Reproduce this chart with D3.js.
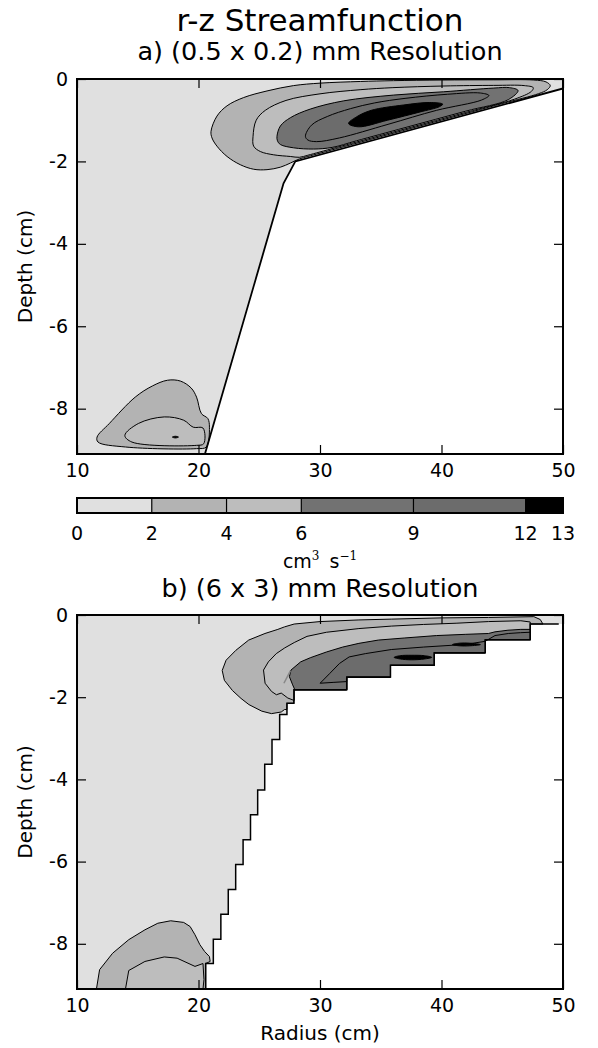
<!DOCTYPE html>
<html><head><meta charset="utf-8">
<script src="https://cdn.jsdelivr.net/npm/d3@7"></script>
<style>body{margin:0;background:#fff}svg{display:block;font-family:"DejaVu Sans",sans-serif}</style>
</head><body><svg id="c" width="598" height="1048"></svg>
<script>
// ---------- data ----------
const levels = [0, 2, 4, 6, 9, 12, 13];
const bandColors = ["#e0e0e0", "#b3b3b3", "#bdbdbd", "#727272", "#6c6c6c", "#000000"];
const xTicks = [10, 20, 30, 40, 50];
const yTicks = [0, -2, -4, -6, -8];
const cbTicks = [0, 2, 4, 6, 9, 12, 13];
const rDomain = [10, 50];
const zDomain = [-9.1, 0];

// panel a : (r, z) outline of fluid domain and its bottom line
const aDomain = [[10,0],[50,0],[50,-0.23],[27.97,-2.0],[27.0,-2.53],[20.53,-9.1],[10,-9.1]];
const aBottom = [[50,-0.23],[27.97,-2.0],[27.0,-2.53],[20.53,-9.1]];
// panel a contours (level = lower bound of the band inside)
const aUpper2 = [[21.03,-1.27],[21.52,-0.90],[22.35,-0.65],[23.72,-0.45],[25.64,-0.29],[27.83,-0.16],[30.03,-0.10],[33.32,-0.06],[36.06,-0.04],[39.99,-0.025],[44.29,-0.02],[47.59,-0.025],[48.6,-0.07],[48.95,-0.16],[48.7,-0.26],[48,-0.355],[45,-0.596],[40,-0.997],[35,-1.398],[32,-1.639],[30,-1.80],[29,-1.88],[28.3,-1.94],[27.56,-2.04],[26.74,-2.14],[25.64,-2.2],[24.54,-2.19],[23.44,-2.08],[22.35,-1.88],[21.52,-1.63],[21.11,-1.43]];
const aUpper4 = [[24.49,-1.39],[24.75,-1.0],[25.5,-0.76],[27.2,-0.52],[30.0,-0.36],[33.3,-0.26],[36.0,-0.21],[40.2,-0.17],[44.3,-0.155],[46.8,-0.16],[47.55,-0.21],[47.4,-0.30],[46,-0.49],[42,-0.81],[37,-1.21],[33,-1.53],[30,-1.77],[29,-1.85],[28.3,-1.90],[27.56,-1.88],[26.19,-1.84],[25.09,-1.76],[24.54,-1.63]];
const aUpper6 = [[26.46,-1.39],[26.74,-1.14],[27.56,-0.94],[29.2,-0.73],[31.95,-0.53],[36.06,-0.39],[40.18,-0.31],[44.3,-0.22],[45.6,-0.21],[46.3,-0.28],[45.5,-0.50],[42,-0.78],[37,-1.18],[33,-1.50],[31,-1.66],[29.48,-1.70],[27.83,-1.67],[26.74,-1.59],[26.5,-1.5]];
const aUpper9 = [[28.8,-1.39],[29.3,-1.12],[30.6,-0.91],[32.5,-0.72],[34.5,-0.58],[37,-0.47],[40.5,-0.37],[43.2,-0.34],[43.9,-0.40],[43.3,-0.51],[39.6,-0.76],[35.6,-1.1],[31.6,-1.43],[29.7,-1.52],[29.0,-1.48]];
const aUpper12 = [[32.35,-1.08],[33.0,-0.92],[34.22,-0.76],[36.9,-0.63],[39.04,-0.57],[40.1,-0.61],[39.84,-0.67],[38.24,-0.80],[35.56,-1.0],[33.16,-1.16]];
const aLower2 = [[11.65,-8.69],[12.66,-8.36],[14.79,-7.72],[16.2,-7.45],[17.45,-7.31],[18.51,-7.33],[19.4,-7.5],[19.84,-7.72],[20.24,-8.12],[20.77,-8.24],[20.9,-8.45],[20.64,-8.93],[19.84,-8.97],[13.99,-8.93],[11.73,-8.81]];
const aLower4 = [[13.94,-8.65],[15.05,-8.36],[17.18,-8.2],[18.78,-8.28],[19.57,-8.45],[20.37,-8.47],[20.43,-8.85],[19.84,-8.89],[14.52,-8.81]];
const aLower6 = [[17.85,-8.69],[18.1,-8.67],[18.35,-8.69],[18.1,-8.71]];

// panel b : stair-stepped domain
const bDomain = [[10,0],[50,0],[50,-0.22],[47.3,-0.22],[47.3,-0.6],[43.6,-0.6],[43.6,-0.92],[39.4,-0.92],[39.4,-1.22],[35.8,-1.22],[35.8,-1.51],[32.2,-1.51],[32.2,-1.82],[27.85,-1.82],[27.85,-2.15],[27.28,-2.15],[27.28,-2.42],[26.68,-2.42],[26.68,-3.03],[26.05,-3.03],[26.05,-3.63],[25.45,-3.63],[25.45,-4.26],[24.87,-4.26],[24.87,-4.86],[24.28,-4.86],[24.28,-5.47],[23.67,-5.47],[23.67,-6.07],[23.06,-6.07],[23.06,-6.68],[22.45,-6.68],[22.45,-7.28],[21.84,-7.28],[21.84,-7.89],[21.22,-7.89],[21.22,-8.48],[20.59,-8.48],[20.59,-9.1],[10,-9.1]];
const bBottom = [[49.65,-0.22],[47.3,-0.22],[47.3,-0.6],[43.6,-0.6],[43.6,-0.92],[39.4,-0.92],[39.4,-1.22],[35.8,-1.22],[35.8,-1.51],[32.2,-1.51],[32.2,-1.82],[27.85,-1.82],[27.85,-2.15],[27.28,-2.15],[27.28,-2.42],[26.68,-2.42],[26.68,-3.03],[26.05,-3.03],[26.05,-3.63],[25.45,-3.63],[25.45,-4.26],[24.87,-4.26],[24.87,-4.86],[24.28,-4.86],[24.28,-5.47],[23.67,-5.47],[23.67,-6.07],[23.06,-6.07],[23.06,-6.68],[22.45,-6.68],[22.45,-7.28],[21.84,-7.28],[21.84,-7.89],[21.22,-7.89],[21.22,-8.48],[20.59,-8.48],[20.59,-9.1]];
const bUpper2 = [[21.95,-1.35],[22.27,-1.10],[23.07,-0.86],[24.13,-0.61],[25.47,-0.45],[26.53,-0.35],[27.07,-0.29],[27.87,-0.22],[30.0,-0.16],[33.2,-0.12],[35.87,-0.10],[40.0,-0.07],[43.87,-0.06],[47.6,-0.04],[48.13,-0.11],[48.35,-0.22],[47.3,-0.22],[47.3,-0.6],[43.6,-0.6],[43.6,-0.92],[39.4,-0.92],[39.4,-1.22],[35.8,-1.22],[35.8,-1.51],[32.2,-1.51],[32.2,-1.82],[27.85,-1.82],[27.85,-2.15],[27.28,-2.15],[27.28,-2.30],[27.08,-2.30],[26.81,-2.36],[26.01,-2.40],[25.21,-2.34],[24.15,-2.18],[23.5,-2.03],[22.8,-1.84],[22.13,-1.59]];
const bUpper4 = [[25.35,-1.34],[25.75,-1.14],[26.4,-0.94],[27.1,-0.80],[27.88,-0.67],[28.93,-0.52],[30.53,-0.42],[33.2,-0.33],[35.87,-0.27],[38.53,-0.23],[41.2,-0.20],[43.87,-0.16],[46.53,-0.14],[47.3,-0.17],[47.3,-0.6],[43.6,-0.6],[43.6,-0.92],[39.4,-0.92],[39.4,-1.22],[35.8,-1.22],[35.8,-1.51],[32.2,-1.51],[32.2,-1.82],[27.88,-1.82],[27.88,-2.08],[27.35,-2.02],[26.81,-1.90],[26.41,-1.94],[26.01,-1.86],[25.48,-1.66]];
const bUpper6 = [[27.61,-1.34],[28.41,-1.14],[29.2,-1.04],[30.53,-0.90],[31.87,-0.78],[33.2,-0.69],[34.8,-0.61],[36.93,-0.56],[39.6,-0.50],[42.0,-0.47],[43.87,-0.45],[44.4,-0.41],[45.47,-0.37],[46.53,-0.35],[47.3,-0.35],[47.3,-0.6],[43.6,-0.6],[43.6,-0.92],[39.4,-0.92],[39.4,-1.22],[35.8,-1.22],[35.8,-1.51],[32.2,-1.51],[32.2,-1.82],[27.93,-1.82],[27.75,-1.70],[27.48,-1.50]];
const bUpper9 = [[30.01,-1.66],[30.81,-1.42],[31.6,-1.18],[32.4,-1.02],[33.73,-0.94],[35.87,-0.84],[38.53,-0.78],[41.2,-0.73],[42.53,-0.69],[43.6,-0.64],[44.4,-0.50],[45.5,-0.45],[46.5,-0.43],[47.3,-0.42],[47.3,-0.6],[43.6,-0.6],[43.6,-0.92],[39.4,-0.92],[39.4,-1.22],[35.8,-1.22],[35.8,-1.51],[32.2,-1.51],[32.2,-1.62],[31.08,-1.64]];
const bBlob1 = [[36.1,-1.03],[36.6,-0.99],[37.5,-0.98],[38.6,-0.99],[39.2,-1.03],[38.6,-1.07],[37.5,-1.09],[36.6,-1.07]];
const bBlob2 = [[40.9,-0.72],[41.5,-0.685],[42.3,-0.685],[43.2,-0.72],[42.3,-0.75],[41.5,-0.75]];
const bLower2 = [[11.6,-9.1],[11.86,-8.63],[12.93,-8.23],[14.26,-7.9],[15.59,-7.66],[16.65,-7.5],[17.71,-7.44],[18.78,-7.48],[19.31,-7.58],[19.71,-7.78],[20.11,-8.02],[20.51,-8.19],[20.9,-8.31],[20.96,-8.43],[20.59,-8.48],[20.59,-9.1]];
const bLower4 = [[13.99,-9.1],[14.26,-8.65],[15.59,-8.43],[17.18,-8.32],[18.24,-8.35],[19.71,-8.55],[20.37,-8.48],[20.45,-8.87],[20.37,-9.1]];
const bGrayLine = [[27.03,-1.66],[27.56,-1.36]];

// ---------- drawing ----------
const svg = d3.select("#c");
const L = 77, R = 563;
const TICK_FS = 19, LABEL_FS = 20, SUB_FS = 25.5, TITLE_FS = 31;
const x = d3.scaleLinear().domain(rDomain).range([L, R]);
const colorOf = lv => bandColors[levels.indexOf(lv)];
const fmt = d => String(d);

function panel(id, top, bottom, cfg) {
  const y = d3.scaleLinear().domain(zDomain).range([bottom, top]);
  const g = svg.append("g");
  g.append("clipPath").attr("id", "clip" + id)
    .append("rect").attr("x", L).attr("y", top).attr("width", R - L).attr("height", bottom - top);
  const body = g.append("g").attr("clip-path", `url(#clip${id})`);
  const lin = d3.line().x(d => x(d[0])).y(d => y(d[1]));
  const smooth = d3.line().x(d => x(d[0])).y(d => y(d[1])).curve(d3.curveCatmullRomClosed.alpha(0.5));
  body.append("path").attr("d", lin(cfg.domain) + "Z").attr("fill", bandColors[0]);
  cfg.contours.forEach(c => {
    const gen = c.smooth ? smooth : lin;
    body.append("path").attr("d", gen(c.pts) + (c.smooth ? "" : "Z"))
      .attr("fill", colorOf(c.level)).attr("stroke", "#000").attr("stroke-width", 1)
      .attr("stroke-linejoin", "round");
  });
  (cfg.lines || []).forEach(l => {
    body.append("path").attr("d", lin(l.pts)).attr("fill", "none")
      .attr("stroke", l.color).attr("stroke-width", l.width);
  });
  body.append("path").attr("d", lin(cfg.bottom)).attr("fill", "none")
    .attr("stroke", "#000").attr("stroke-width", cfg.bottomWidth);

  const ax = g.append("g");
  const bAx = ax.append("g").attr("transform", `translate(0,${bottom})`)
    .call(d3.axisBottom(x).tickValues(xTicks).tickSize(-9).tickPadding(10).tickFormat(fmt));
  const tAx = ax.append("g").attr("transform", `translate(0,${top})`)
    .call(d3.axisTop(x).tickValues(xTicks).tickSize(-9).tickFormat(""));
  const lAx = ax.append("g").attr("transform", `translate(${L},0)`)
    .call(d3.axisLeft(y).tickValues(yTicks).tickSize(-9).tickPadding(9).tickFormat(fmt));
  const rAx = ax.append("g").attr("transform", `translate(${R},0)`)
    .call(d3.axisRight(y).tickValues(yTicks).tickSize(-9).tickFormat(""));
  [bAx, tAx, lAx, rAx].forEach(a => {
    a.select(".domain").remove();
    a.selectAll(".tick line").attr("stroke", "#000").attr("stroke-width", 1.2);
    a.selectAll("text").attr("fill", "#000").attr("font-family", "DejaVu Sans").attr("font-size", TICK_FS);
  });
  g.append("rect").attr("x", L).attr("y", top).attr("width", R - L).attr("height", bottom - top)
    .attr("fill", "none").attr("stroke", "#000").attr("stroke-width", 2);
  g.append("text").attr("transform", `translate(32,${(top + bottom) / 2}) rotate(-90)`)
    .attr("text-anchor", "middle").attr("font-size", LABEL_FS).text("Depth (cm)");
  return y;
}

// titles
svg.append("text").attr("x", 320).attr("y", 31).attr("text-anchor", "middle")
  .attr("font-size", TITLE_FS).text("r-z Streamfunction");
svg.append("text").attr("x", 320).attr("y", 60).attr("text-anchor", "middle")
  .attr("font-size", SUB_FS).text("a) (0.5 x 0.2) mm Resolution");

panel("a", 79, 454, {
  domain: aDomain, bottom: aBottom, bottomWidth: 1.8,
  contours: [
    {level: 2, pts: aUpper2, smooth: true},
    {level: 4, pts: aUpper4, smooth: true},
    {level: 6, pts: aUpper6, smooth: true},
    {level: 9, pts: aUpper9, smooth: true},
    {level: 12, pts: aUpper12, smooth: true},
    {level: 2, pts: aLower2, smooth: true},
    {level: 4, pts: aLower4, smooth: true},
    {level: 12, pts: aLower6, smooth: true}
  ]
});

// colorbar
const cx = d3.scaleLinear().domain([levels[0], levels[levels.length - 1]]).range([L, R]);
const cbTop = 498, cbH = 15;
const cb = svg.append("g");
d3.pairs(levels).forEach((p, i) => {
  cb.append("rect").attr("x", cx(p[0])).attr("y", cbTop).attr("width", cx(p[1]) - cx(p[0])).attr("height", cbH)
    .attr("fill", bandColors[i]);
});
levels.slice(1, -1).forEach(v => {
  cb.append("line").attr("x1", cx(v)).attr("x2", cx(v)).attr("y1", cbTop).attr("y2", cbTop + cbH)
    .attr("stroke", "#000").attr("stroke-width", 1.2);
});
cb.append("rect").attr("x", L).attr("y", cbTop).attr("width", R - L).attr("height", cbH)
  .attr("fill", "none").attr("stroke", "#000").attr("stroke-width", 2);
cb.selectAll("text.cbt").data(cbTicks).enter().append("text").attr("class", "cbt")
  .attr("x", d => cx(d)).attr("y", 540).attr("text-anchor", "middle").attr("font-size", TICK_FS).text(fmt);
const unit = svg.append("text").attr("x", 320).attr("y", 568).attr("text-anchor", "middle").attr("font-size", TICK_FS);
unit.append("tspan").text("cm");
unit.append("tspan").attr("font-size", 12).attr("font-family", "DejaVu Serif").attr("dy", -8).text("3");
unit.append("tspan").attr("dx", 10).attr("dy", 8).text("s");
unit.append("tspan").attr("font-size", 12).attr("font-family", "DejaVu Serif").attr("dy", -8).text("\u22121");

svg.append("text").attr("x", 320).attr("y", 597).attr("text-anchor", "middle")
  .attr("font-size", SUB_FS).text("b) (6 x 3) mm Resolution");

panel("b", 615, 989, {
  domain: bDomain, bottom: bBottom, bottomWidth: 1.5,
  contours: [
    {level: 2, pts: bUpper2},
    {level: 4, pts: bUpper4},
    {level: 6, pts: bUpper6},
    {level: 9, pts: bUpper9},
    {level: 12, pts: bBlob1, smooth: true},
    {level: 12, pts: bBlob2, smooth: true},
    {level: 2, pts: bLower2},
    {level: 4, pts: bLower4}
  ],
  lines: [{pts: bGrayLine, color: "#888", width: 1.5}]
});

svg.append("text").attr("x", 320).attr("y", 1040).attr("text-anchor", "middle")
  .attr("font-size", LABEL_FS).text("Radius (cm)");
</script></body></html>
